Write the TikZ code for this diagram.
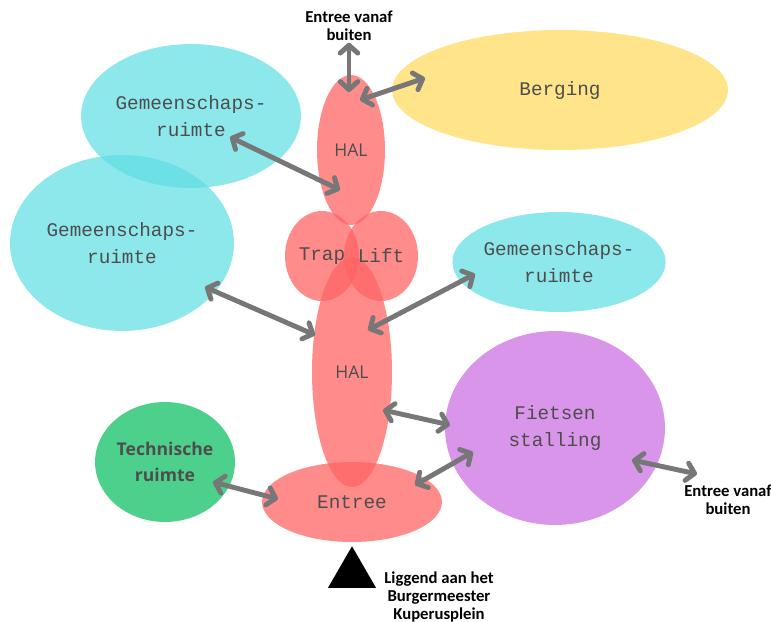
\documentclass[tikz,border=0pt]{standalone}
\usepackage{fontspec}
\setmainfont{Open Sans}
\newfontfamily\monofont{Liberation Mono}
\newfontfamily\notefont{Carlito}
\usetikzlibrary{arrows.meta,calc,shapes.geometric}
\definecolor{roze}{HTML}{FF6464}
\definecolor{cyaan}{RGB}{92,222,228}
\definecolor{geel}{HTML}{FFE48A}
\definecolor{paars}{HTML}{D995EA}
\definecolor{groen}{HTML}{4DD08C}
\definecolor{pijlgrijs}{HTML}{777777}
\definecolor{tekstgrijs}{HTML}{4D4D4D}
\tikzset{
    ovaal/.style 2 args={ellipse, draw=none, inner sep=0pt,
        minimum width=#1*0.04cm, minimum height=#2*0.04cm,
        text=tekstgrijs, align=center, text opacity=1},
    ruimte/.style={font=\monofont\fontsize{11}{15.5}\selectfont},
    halruimte/.style={fill=roze, fill opacity=.75},
    gemruimte/.style={fill=cyaan, fill opacity=.7},
    notitie/.style={align=center, inner sep=1pt,
        font=\notefont\bfseries\fontsize{9.5}{10}\selectfont}
}
\tikzset{
    every edge/.append style={draw=pijlgrijs, line width=2.8pt,
        {Straight Barb[length=4.5pt,width=10pt,round]}-{Straight Barb[length=4.5pt,width=10pt,round]}}
}

\begin{document}
\begin{tikzpicture}[x=0.02cm, y=-0.02cm]
	\useasboundingbox (0,0) rectangle (771,622);
	% ruimtes
	\node (gemA) [ovaal={110}{72}, gemruimte, ruimte] at (191,116) {Gemeenschaps-\\ruimte};
	\node (gemB) [ovaal={112}{88}, gemruimte, ruimte] at (122,243) {Gemeenschaps-\\ruimte};
	\node (gemC) [ovaal={106}{50}, gemruimte, ruimte] at (559,262) {Gemeenschaps-\\ruimte};
	\node (berging) [ovaal={168}{60}, fill=geel, ruimte] at (560,90) {Berging};
	\node (fiets) [ovaal={110}{97}, fill=paars, ruimte] at (555,428) {Fietsen\\stalling};
	\node (tech) [ovaal={70}{60}, fill=groen,
		font=\bfseries\fontsize{10}{15}\selectfont] at (165,462) {Technische\\ruimte};
	% hal, trap en lift
	\node (halBot) [ovaal={40}{115}, halruimte,
		font=\fontsize{10}{12}\selectfont] at (352,372) {HAL};
	\node (trap) [ovaal={37}{45}, halruimte, ruimte] at (322,256) {Trap};
	\node (lift) [ovaal={37}{45}, halruimte, ruimte] at (381,256) {Lift};
	\node (halTop) [ovaal={34}{75}, halruimte,
		font=\fontsize{10}{12}\selectfont] at (351,150) {HAL};
	\node (entree) [ovaal={90}{40}, halruimte, ruimte] at (352,502) {Entree};
	% buiten
	\node (buitenTop) [notitie] at (349,26) {Entree vanaf\\buiten};
	\node (buitenRechts) [notitie] at (728,500) {Entree vanaf\\buiten};
	\node (plein) [regular polygon, regular polygon sides=3, fill=black,
		minimum size=1.11cm, inner sep=0pt] at (352,574) {};
	\node (pleinTxt) [notitie, font=\notefont\bfseries\fontsize{9.5}{10.5}\selectfont]
		at (439,597) {Liggend aan het\\Burgermeester\\Kuperusplein};

	\draw (buitenTop.south) edge ($(halTop)+(-2,-58)$);
	\draw ($(halTop)+(9,-50)$) edge ($(berging)+(-135,-12)$);
	\draw ($(gemA)+(39,21)$) edge ($(halTop)+(-11,40)$);
	\draw ($(gemB)+(83,44)$) edge ($(halBot)+(-37,-37)$);
	\draw ($(gemC)+(-84,12)$) edge ($(halBot)+(16,-42)$);
	\draw ($(halBot)+(31,38)$) edge ($(fiets)+(-105,-3)$);
	\draw ($(entree)+(63,-17)$) edge ($(fiets)+(-82,24)$);
	\draw ($(tech)+(48,20)$) edge ($(entree)+(-74,-3)$);
	\draw ($(fiets)+(77,32)$) edge ($(buitenRechts)+(-31,-26)$);
\end{tikzpicture}
\end{document}
